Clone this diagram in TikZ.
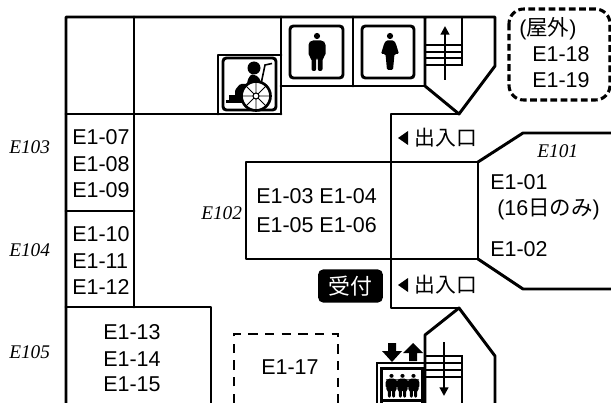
\documentclass[tikz,border=0pt]{standalone}
\usepackage{fontspec}
\setmainfont{Liberation Sans}
\newfontfamily\cjkf{Noto Sans CJK JP}
\newfontfamily\timesf{Liberation Serif}
\usetikzlibrary{arrows.meta}
\tikzset{
  x=0.75pt,y=-0.75pt,
  wall/.style={line width=2.2pt,line cap=round,line join=round},
  thinwall/.style={line width=1.7pt},
  dashwall/.style={line width=2pt,dash pattern=on 7pt off 5.5pt},
  label/.style={inner sep=0pt,anchor=west,font=\fontsize{16.1}{18}\selectfont},
  room/.style={inner sep=0pt,anchor=west,font=\timesf\itshape\fontsize{14.5}{17}\selectfont},
  cjk/.style={inner sep=0pt,anchor=west,font=\cjkf\fontsize{15.6}{18}\selectfont},
  pictobox/.style={line width=2.2pt,rounded corners=2.5pt},
  stairarrow/.style={line width=1.6pt,-{Triangle[length=6.5pt,width=6.5pt]}},
  entry/.style={fill=black},
}
\newcommand{\manfig}[4]{% x, y(top of head), xscale, yscale
 \begin{scope}[shift={(#1,#2)},xscale=#3,yscale=#4]
  \fill (0,3) ellipse (3.1 and 3.1);
  \fill[rounded corners=1.5pt] (-8.5,10) -- (-6,7.5) -- (6,7.5) -- (8.5,10) -- (8.5,23) -- (5.5,25) -- (5.5,38) -- (0.8,38) -- (0.8,25) -- (-0.8,25) -- (-0.8,38) -- (-5.5,38) -- (-5.5,25) -- (-8.5,23) -- cycle;
 \end{scope}}
\begin{document}
\begin{tikzpicture}
\useasboundingbox (0,0) rectangle (611,403);
\clip (0,0) rectangle (611,403);
% main walls
\draw[wall] (66,403) -- (66,17) -- (495,17) -- (495,66) -- (459,114) -- (425,86) -- (425,17);
\draw[wall] (134,17) -- (134,307);
\draw[wall] (66,114) -- (281,114);
\draw[wall] (218,114) -- (218,55) -- (281,55);
\draw[wall] (281,17) -- (281,114);
\draw[wall] (281,86) -- (425,86);
\draw[wall] (353,17) -- (353,86);
\draw[wall] (459,114) -- (391,114) -- (391,308) -- (459,308);
\draw[wall] (66,211) -- (134,211);
\draw[wall] (211,403) -- (211,307) -- (66,307);
\draw[wall] (246,162) rectangle (478,259);
\draw[wall] (611,133) -- (523,133) -- (478,162);
\draw[wall] (611,289) -- (523,289) -- (478,259);
\draw[wall] (425,403) -- (425,335) -- (459,308) -- (495,356) -- (495,403);
% upper stairs
\draw[thinwall] (462,17) -- (462,65) -- (425,65);
\draw[thinwall] (425,45) -- (462,45) (425,52) -- (462,52) (425,58) -- (462,58);
\draw[stairarrow] (445,80) -- (445,26);
% lower stairs
\draw[thinwall] (425,356) -- (462,356) -- (462,403);
\draw[thinwall] (425,363) -- (462,363) (425,370) -- (462,370) (425,377) -- (462,377);
\draw[stairarrow] (444,342) -- (444,396);
% dashed areas
\draw[dashwall] (234,403) -- (234,334) -- (338,334) -- (338,403);
\draw[line width=2.3pt,dash pattern=on 5pt off 2.6pt,rounded corners=11pt] (509,9) rectangle (610,100);
% pictograms
\draw[pictobox] (290,26) rectangle (343,78);
\manfig{317}{33}{1}{1}
\draw[pictobox] (362,26) rectangle (414,78);
\begin{scope}[shift={(390,33)}]
  \fill (0,3) circle (3.1);
  \fill[rounded corners=1pt] (-4,7.5) -- (4,7.5) -- (6,11) -- (9,21) -- (4.5,21) -- (3,37) -- (-3,37) -- (-4.5,21) -- (-9,21) -- (-6,11) -- cycle;
\end{scope}
% wheelchair
\draw[pictobox] (223,58) rectangle (276,110);
\fill (254,68) circle (6.5);
\fill (247,84) .. controls (248,76) and (252,73) .. (254,75) .. controls (258,75) and (261,80) .. (261,84) -- cycle;
\fill[rounded corners=1pt] (240,84) -- (258,84) -- (258,92) -- (246,92) -- (243,102) -- (235,102) -- (235,90) -- cycle;
\fill (226,100) rectangle (243,103);
\fill (229,95) rectangle (236,100);
\draw[line width=1.2pt] (272,63.5) -- (265,65) -- (261,84);
\draw[fill=white,line width=2pt] (256,96) circle (14.5);
\draw[line width=0.7pt] (241.5,96) -- (270.5,96) (256,81.5) -- (256,110.5) (245.7,85.7) -- (266.3,106.3) (245.7,106.3) -- (266.3,85.7);
\draw[fill=white,line width=0.8pt] (256,96) circle (3);
% elevator
\draw[line width=1.5pt] (377,403) -- (377,363) -- (425,363);
\draw[line width=2.6pt] (381.5,403) -- (381.5,368.5) -- (423,368.5) -- (423,403);
\draw[line width=2.6pt] (381.5,400.5) -- (423,400.5);
\manfig{391.5}{374}{0.68}{0.62}
\manfig{402.5}{374}{0.68}{0.62}
\manfig{413.5}{374}{0.68}{0.62}
\fill (388,343) -- (396,343) -- (396,351) -- (402,351) -- (392,362) -- (382,351) -- (388,351) -- cycle;
\fill (409,361) -- (417,361) -- (417,353) -- (423,353) -- (413,343) -- (403,353) -- (409,353) -- cycle;
% entrances
\fill[entry] (398,138) -- (408,131) -- (408,145) -- cycle;
\node[cjk] (entA) at (414.5,138) {出入口};
\fill[entry] (398,285) -- (408,278) -- (408,292) -- cycle;
\node[cjk] (entB) at (414.5,285) {出入口};
% reception
\node[fill=black,rounded corners=4pt,text=white,inner sep=0pt,minimum width=48.7pt,minimum height=25pt,font=\cjkf\fontsize{16.4}{18}\selectfont] (recep) at (350.5,286) {受付};
% labels
\node[label] (a07) at (72,137) {E1-07};
\node[label] (a08) at (72,164) {E1-08};
\node[label] (a09) at (72,190) {E1-09};
\node[label] (a10) at (72,234) {E1-10};
\node[label] (a11) at (72,261) {E1-11};
\node[label] (a12) at (72,287) {E1-12};
\node[label] (a13) at (103,332) {E1-13};
\node[label] (a14) at (103,359) {E1-14};
\node[label] (a15) at (103,384) {E1-15};
\node[label] (a17) at (261,367) {E1-17};
\node[label] (a03) at (256,196) {E1-03 E1-04};
\node[label] (a05) at (256,225) {E1-05 E1-06};
\node[label] (a01) at (490,182) {E1-01};
\node[label] (a16) at (497,209) {(16{\cjkf 日のみ})};
\node[label] (a02) at (490,249) {E1-02};
\node[label] (ax) at (519,29) {({\cjkf 屋外})};
\node[label] (a18) at (532,54) {E1-18};
\node[label] (a19) at (532,80) {E1-19};
\node[room] (r1) at (537,151) {E101};
\node[room] (r2) at (201,213) {E102};
\node[room] (r3) at (9,147) {E103};
\node[room] (r4) at (9,250) {E104};
\node[room] (r5) at (9,352) {E105};
\end{tikzpicture}
\end{document}
